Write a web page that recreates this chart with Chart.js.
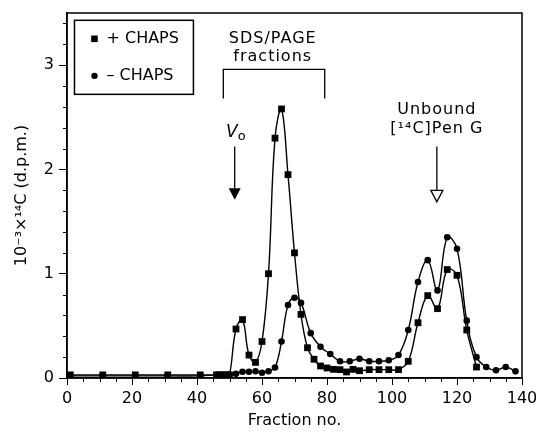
<!DOCTYPE html>
<html>
<head>
<meta charset="utf-8">
<script src="https://cdn.jsdelivr.net/npm/chart.js@4.4.0/dist/chart.umd.min.js"></script>
<style>
  html, body { margin: 0; padding: 0; background: #fff; }
  #wrap { width: 536px; height: 432px; }
</style>
</head>
<body>
<div id="wrap"><canvas id="c" width="536" height="432"></canvas></div>
<script>
// +CHAPS (squares)
const plusX = [1, 11, 21, 31, 41, 46, 47, 48, 49, 50, 52, 54, 56, 58, 60, 62, 64, 66, 68, 70, 72, 74, 76, 78, 80, 82, 84, 86, 88, 90, 93, 96, 99, 102, 105, 108, 111, 114, 117, 120, 123, 126];
const plusY = [0.03, 0.03, 0.03, 0.03, 0.03, 0.03, 0.03, 0.03, 0.03, 0.03, 0.47, 0.56, 0.22, 0.15, 0.35, 1.0, 2.30, 2.58, 1.95, 1.20, 0.61, 0.29, 0.18, 0.115, 0.096, 0.083, 0.08, 0.058, 0.083, 0.07, 0.08, 0.08, 0.08, 0.08, 0.16, 0.53, 0.79, 0.665, 1.04, 0.985, 0.46, 0.105];

// -CHAPS (circles)
const minusX = [1, 11, 21, 31, 41, 46, 48, 50, 52, 54, 56, 58, 60, 62, 64, 66, 68, 70, 72, 75, 78, 81, 84, 87, 90, 93, 96, 99, 102, 105, 108, 111, 114, 117, 120, 123, 126, 129, 132, 135, 138];
const minusY = [0.02, 0.02, 0.02, 0.02, 0.02, 0.03, 0.03, 0.035, 0.04, 0.06, 0.06, 0.065, 0.05, 0.065, 0.10, 0.35, 0.70, 0.77, 0.72, 0.43, 0.30, 0.23, 0.16, 0.16, 0.185, 0.16, 0.16, 0.17, 0.22, 0.46, 0.92, 1.13, 0.84, 1.35, 1.24, 0.55, 0.20, 0.105, 0.074, 0.105, 0.064];

const xTicks = [0, 20, 40, 60, 80, 100, 120, 140];
const yTicks = [0, 1, 2, 3];

const FONT = "'DejaVu Sans', sans-serif";

function pts(xs, ys) {
  return xs.map((x, i) => ({ x: x, y: ys[i] }));
}

// annotations, in data units
const annot = {
  sdsText: { x: 63.3, y1: 3.25, y2: 3.08 },
  bracket: { x1: 48.1, x2: 79.3, top: 2.96, bottom: 2.68 },
  vo: { x: 51.6, textY: 2.35, lineTop: 2.22, headTop: 1.82, tip: 1.71 },
  unbound: { x: 113.8, textY1: 2.57, textY2: 2.39, lineTop: 2.22, headTop: 1.80, tip: 1.69 },
  legend: { x1: 2.3, x2: 38.9, top: 3.43, bottom: 2.72 }
};

const extras = {
  id: 'extras',
  afterDraw(chart) {
    const ctx = chart.ctx;
    const xs = chart.scales.x, ys = chart.scales.y;
    const a = chart.chartArea;
    const px = v => xs.getPixelForValue(v);
    const py = v => ys.getPixelForValue(v);
    ctx.save();
    ctx.strokeStyle = '#000';
    ctx.fillStyle = '#000';

    // frame
    ctx.lineWidth = 1.5;
    ctx.strokeRect(a.left, a.top, a.right - a.left, a.bottom - a.top);

    // minor ticks
    ctx.lineWidth = 1;
    ctx.beginPath();
    for (let v = 5; v < 140; v += 5) {
      if (v % 20 === 0) continue;
      const x = Math.round(px(v)) + 0.5;
      ctx.moveTo(x, a.bottom); ctx.lineTo(x, a.bottom + 4);
    }
    for (let k = 1; k <= 17; k++) {
      if (k % 5 === 0) continue;
      const y = Math.round(py(k * 0.2)) + 0.5;
      ctx.moveTo(a.left, y); ctx.lineTo(a.left - 4, y);
    }
    ctx.stroke();

    ctx.font = '16px ' + FONT;
    ctx.textAlign = 'center';
    ctx.textBaseline = 'middle';
    ctx.letterSpacing = '1px';

    // SDS/PAGE bracket
    ctx.fillText('SDS/PAGE', px(annot.sdsText.x), py(annot.sdsText.y1));
    ctx.fillText('fractions', px(annot.sdsText.x), py(annot.sdsText.y2));
    const b = annot.bracket;
    ctx.lineWidth = 1.3;
    ctx.beginPath();
    ctx.moveTo(px(b.x1), py(b.bottom));
    ctx.lineTo(px(b.x1), py(b.top));
    ctx.lineTo(px(b.x2), py(b.top));
    ctx.lineTo(px(b.x2), py(b.bottom));
    ctx.stroke();

    // Unbound arrow
    const u = annot.unbound;
    const ux = px(u.x);
    ctx.fillText('Unbound', ux, py(u.textY1));
    ctx.fillText('[¹⁴C]Pen G', ux, py(u.textY2));
    ctx.letterSpacing = '0px';
    ctx.beginPath();
    ctx.moveTo(ux, py(u.lineTop)); ctx.lineTo(ux, py(u.headTop));
    ctx.stroke();
    ctx.beginPath();
    ctx.moveTo(ux - 6, py(u.headTop));
    ctx.lineTo(ux + 6, py(u.headTop));
    ctx.lineTo(ux, py(u.tip));
    ctx.closePath();
    ctx.fillStyle = '#fff';
    ctx.fill();
    ctx.stroke();
    ctx.fillStyle = '#000';

    // Vo arrow
    const vo = annot.vo;
    const vx = px(vo.x);
    ctx.font = 'italic 17px ' + FONT;
    ctx.textAlign = 'right';
    ctx.fillText('V', vx + 3, py(vo.textY));
    ctx.font = '13px ' + FONT;
    ctx.textAlign = 'left';
    ctx.fillText('o', vx + 3, py(vo.textY) + 4);
    ctx.beginPath();
    ctx.moveTo(vx, py(vo.lineTop)); ctx.lineTo(vx, py(vo.headTop));
    ctx.stroke();
    ctx.beginPath();
    ctx.moveTo(vx - 6, py(vo.headTop));
    ctx.lineTo(vx + 6, py(vo.headTop));
    ctx.lineTo(vx, py(vo.tip));
    ctx.closePath();
    ctx.fill();

    // legend
    const L = annot.legend;
    const lx1 = px(L.x1), lx2 = px(L.x2), lt = py(L.top), lb = py(L.bottom);
    ctx.fillStyle = '#fff';
    ctx.fillRect(lx1, lt, lx2 - lx1, lb - lt);
    ctx.fillStyle = '#000';
    ctx.lineWidth = 1.5;
    ctx.strokeRect(lx1, lt, lx2 - lx1, lb - lt);
    const rowY = [lt + (lb - lt) * 0.25, lt + (lb - lt) * 0.75];
    const mx = lx1 + 20;
    ctx.fillRect(mx - 3.3, rowY[0] - 3.3, 6.6, 6.6);
    ctx.beginPath();
    ctx.arc(mx, rowY[1], 3.2, 0, Math.PI * 2);
    ctx.fill();
    ctx.font = '16px ' + FONT;
    ctx.textAlign = 'left';
    ctx.fillText('+ CHAPS', mx + 12, rowY[0]);
    ctx.fillText('– CHAPS', mx + 12, rowY[1]);

    ctx.restore();
  }
};

new Chart(document.getElementById('c'), {
  type: 'line',
  data: {
    datasets: [
      {
        label: '+ CHAPS',
        data: pts(plusX, plusY),
        borderColor: '#000',
        backgroundColor: '#000',
        borderWidth: 1.4,
        pointStyle: 'rect',
        pointRadius: 4.8,
        pointBorderWidth: 0,
        tension: 0.4
      },
      {
        label: '– CHAPS',
        data: pts(minusX, minusY),
        borderColor: '#000',
        backgroundColor: '#000',
        borderWidth: 1.4,
        pointStyle: 'circle',
        pointRadius: 3.3,
        pointBorderWidth: 0,
        tension: 0.4
      }
    ]
  },
  options: {
    responsive: false,
    animation: false,
    layout: { padding: { top: 13, right: 14, left: 0, bottom: 0 } },
    plugins: { legend: { display: false }, tooltip: { enabled: false } },
    scales: {
      x: {
        type: 'linear',
        min: 0, max: 140,
        afterBuildTicks: s => { s.ticks = xTicks.map(v => ({ value: v })); },
        afterFit: s => { s.height = 54; s.paddingLeft = 0; s.paddingRight = 0; },
        grid: { drawOnChartArea: false, tickLength: 7, tickColor: '#000', tickWidth: 1 },
        border: { color: '#000', width: 1.5 },
        ticks: { color: '#000', font: { family: FONT, size: 16 }, padding: 4, maxRotation: 0 },
        title: { display: true, text: 'Fraction no.', color: '#000', font: { family: FONT, size: 16 }, padding: { top: 0, bottom: 2 } }
      },
      y: {
        type: 'linear',
        min: 0, max: 3.5,
        afterBuildTicks: s => { s.ticks = yTicks.map(v => ({ value: v })); },
        afterFit: s => { s.width = 67; s.paddingTop = 0; s.paddingBottom = 0; },
        grid: { drawOnChartArea: false, tickLength: 8, tickColor: '#000', tickWidth: 1 },
        border: { color: '#000', width: 1.5 },
        ticks: { color: '#000', font: { family: FONT, size: 16 }, padding: 5 },
        title: { display: true, text: '10⁻³×¹⁴C (d.p.m.)', color: '#000', font: { family: FONT, size: 16 }, padding: { top: 12, bottom: 0 } }
      }
    }
  },
  plugins: [extras]
});
</script>
</body>
</html>
